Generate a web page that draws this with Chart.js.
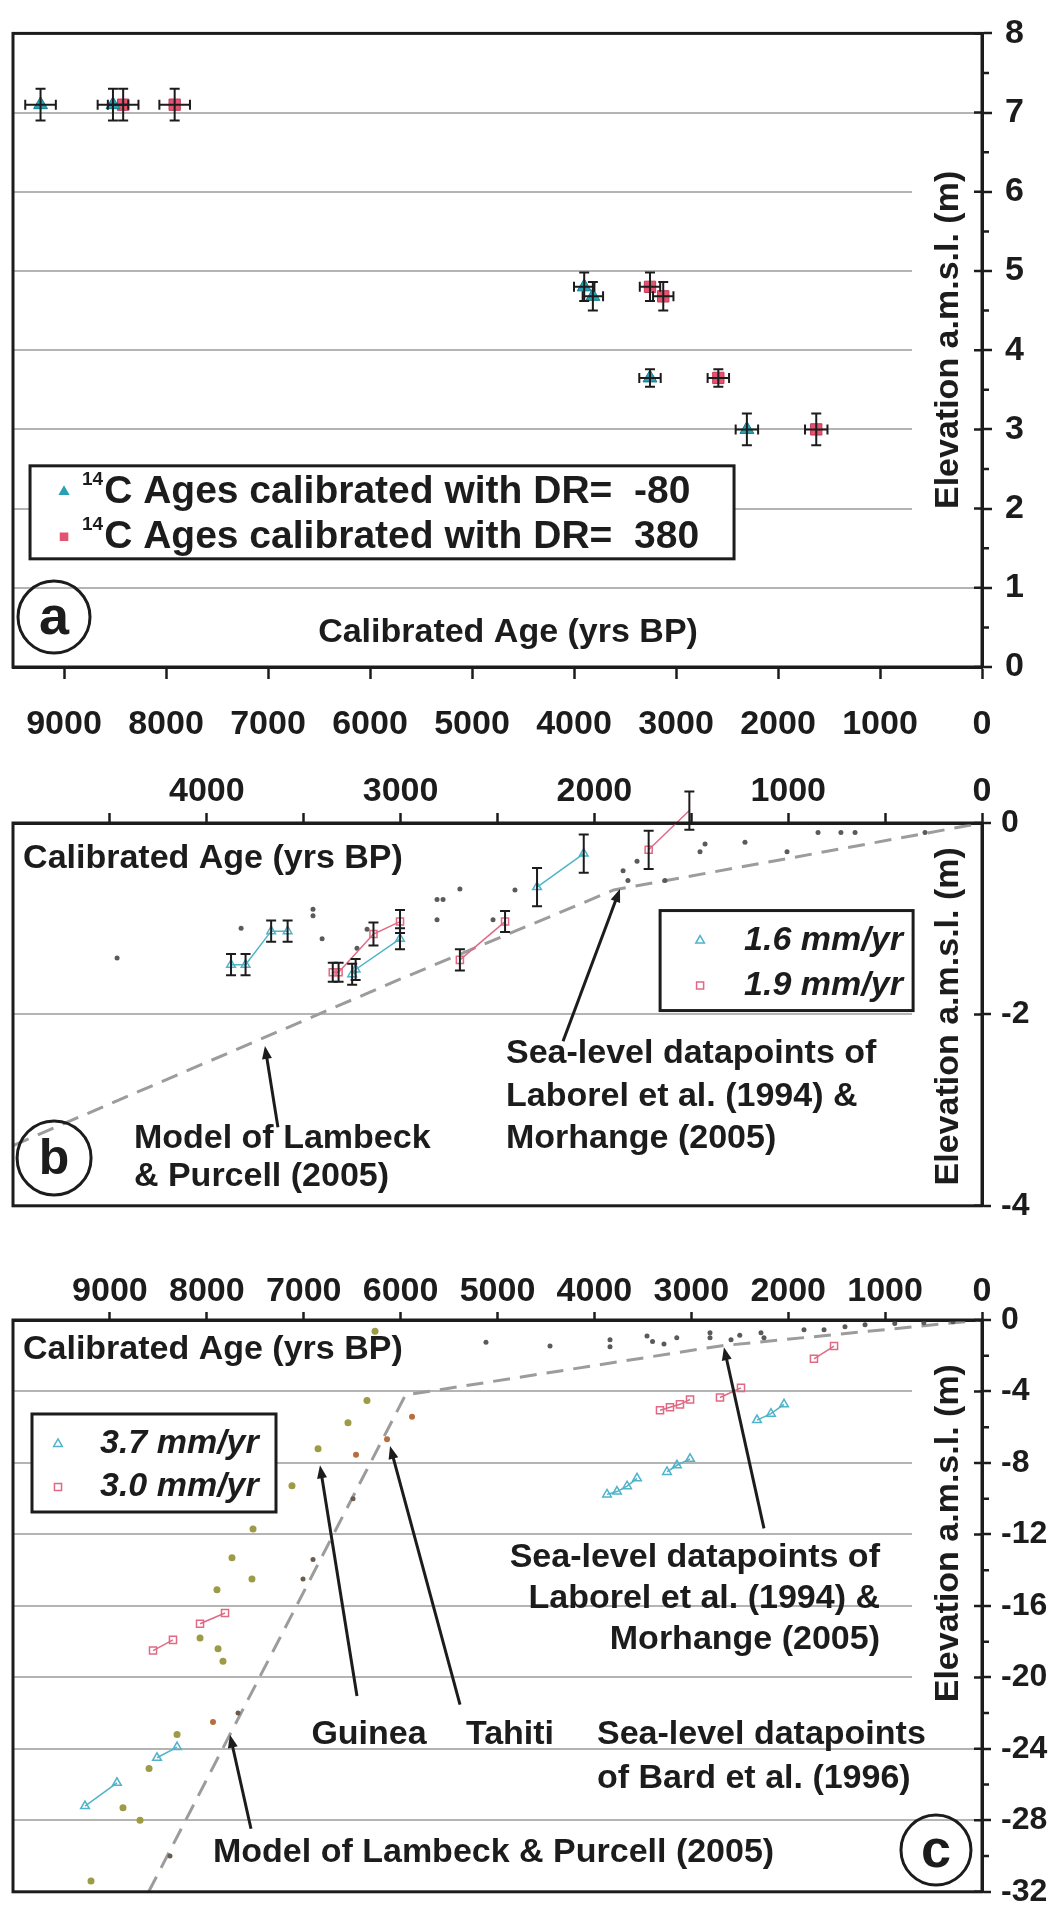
<!DOCTYPE html>
<html>
<head>
<meta charset="utf-8">
<script src="https://cdn.jsdelivr.net/npm/chart.js@4.4.1/dist/chart.umd.min.js"></script>
<style>
html, body { margin: 0; padding: 0; background: #fff; }
#wrap { position: relative; width: 1051px; height: 1921px; }
canvas { position: absolute; left: 0; }
</style>
</head>
<body>
<div id="wrap">
  <canvas id="ca" width="1051" height="745" style="top:0"></canvas>
  <canvas id="cb" width="1051" height="490" style="top:745px"></canvas>
  <canvas id="cc" width="1051" height="686" style="top:1235px"></canvas>
</div>
<script>
// ---- panel a : calibrated ages (yrs BP) and elevation (m) ----
const ageA_m80 = [9230, 8520, 3900, 3815, 3255, 2305];
const ageA_380 = [8420, 7915, 3255, 3125, 2585, 1625];
const elevA    = [7.1, 7.1, 4.8, 4.68, 3.65, 3.0];
const ageErrA  = [150, 150, 100, 100, 105, 110];
const elevErrA = [0.2, 0.2, 0.18, 0.18, 0.11, 0.2];

// ---- panel b ----
const cyanB = [
  [[3875, -1.48], [3800, -1.48], [3668, -1.13], [3583, -1.13]],
  [[3250, -1.58], [3232, -1.53], [3003, -1.21]],
  [[2296, -0.67], [2055, -0.32]]
];
const cyanBErr = [[0.11, 0.11, 0.11, 0.11], [0.11, 0.11, 0.11], [0.2, 0.2]];
const redB = [
  [[3350, -1.56], [3320, -1.56], [3140, -1.16], [3003, -1.03]],
  [[2694, -1.43], [2461, -1.03]],
  [[1720, -0.28], [1510, 0.13]]
];
const redBErr = [[0.1, 0.1, 0.12, 0.12], [0.11, 0.11], [0.2, 0.2]];
const laborelB = [[4463, -1.41], [3823, -1.10], [3452, -0.90], [3452, -0.97], [3405, -1.21], [3225, -1.31],
  [3173, -1.11], [2812, -0.80], [2781, -0.80], [2694, -0.69], [2812, -1.01], [2523, -1.01], [2410, -0.70],
  [1852, -0.50], [1827, -0.60], [1780, -0.40], [1636, -0.60], [1455, -0.30], [1429, -0.22], [1223, -0.20],
  [1006, -0.30], [846, -0.10], [728, -0.10], [655, -0.10], [294, -0.10]];
const modelB = [[5000, -3.37], [4000, -2.5], [3000, -1.63], [1900, -0.70], [1000, -0.37], [0, 0]];

// ---- panel c ----
const cyanC = [
  [[3870, -9.76], [3767, -9.6], [3663, -9.3], [3560, -8.86]],
  [[3251, -8.5], [3148, -8.13], [3013, -7.77]],
  [[2322, -5.6], [2178, -5.24], [2043, -4.72]],
  [[8514, -24.5], [8307, -23.9]],
  [[9257, -27.2], [8927, -25.9]]
];
const redC = [
  [[3323, -5.05], [3220, -4.88], [3117, -4.72], [3013, -4.45]],
  [[2704, -4.34], [2487, -3.8]],
  [[1734, -2.17], [1527, -1.46]],
  [[8555, -18.5], [8349, -17.9]],
  [[8070, -17.0], [7812, -16.4]]
];
const guineaC = [[6264, -0.63], [6347, -4.5], [6543, -5.75], [6852, -7.2], [7121, -9.27], [7523, -11.7],
  [7740, -13.3], [7534, -14.5], [7895, -15.1], [8070, -17.8], [7884, -18.4], [7833, -19.1], [8307, -23.2],
  [8596, -25.1], [8865, -27.3], [8689, -28.0], [9195, -31.4]];
const tahitiC = [[6460, -7.54], [6140, -6.67], [5882, -5.42], [7936, -22.5]];
const tahitiDarkC = [[6491, -10.0], [6904, -13.4], [7007, -14.5], [7678, -22.0], [8380, -30.0]];
const laborelC = [[5119, -1.25], [4458, -1.45], [3839, -1.1], [3839, -1.5], [3457, -0.9], [3400, -1.2],
  [3282, -1.35], [3150, -1.0], [2807, -0.72], [2807, -1.0], [2590, -1.1], [2500, -0.85], [2281, -0.72],
  [2250, -1.0], [1837, -0.54], [1630, -0.54], [1414, -0.38], [1207, -0.27], [900, -0.2], [600, -0.15], [300, -0.1]];
const modelC = [[8600, -32], [5950, -4.2], [2700, -1.45], [0, 0]];

// ---- ticks ----
const xTicksA = [9000, 8000, 7000, 6000, 5000, 4000, 3000, 2000, 1000, 0];
const xTicksB = [4500, 4000, 3500, 3000, 2500, 2000, 1500, 1000, 500, 0];
const xLabelsB = [4000, 3000, 2000, 1000, 0];
const xTicksC = [9000, 8000, 7000, 6000, 5000, 4000, 3000, 2000, 1000, 0];
const yTicksA = [0, 0.5, 1, 1.5, 2, 2.5, 3, 3.5, 4, 4.5, 5, 5.5, 6, 6.5, 7, 7.5, 8];
const yLabelsA = [0, 1, 2, 3, 4, 5, 6, 7, 8];
const yGridA = [1, 2, 3, 4, 5, 6, 7];
const yTicksB = [0, -2, -4];
const yGridB = [-2];
const yTicksC = [0, -2, -4, -6, -8, -10, -12, -14, -16, -18, -20, -22, -24, -26, -28, -30, -32];
const yLabelsC = [0, -4, -8, -12, -16, -20, -24, -28, -32];
const yGridC = [-4, -8, -12, -16, -20, -24, -28];

const yTitle = 'Elevation a.m.s.l. (m)';
const xTitle = 'Calibrated Age (yrs BP)';

const FONT = '"Liberation Sans", Arial, sans-serif';
const INK = '#1c1c1c';
const NONE = 'rgba(0,0,0,0)';
Chart.defaults.font.family = FONT;
Chart.defaults.color = INK;
Chart.defaults.animation = false;

const pts = arr => arr.map(p => ({ x: p[0], y: p[1] }));

function scales(o) {
  return {
    x: {
      type: 'linear', position: o.xPos, reverse: true, min: 0, max: o.xMax,
      afterBuildTicks: s => { s.ticks = o.xTicks.map(v => ({ value: v })); },
      afterFit: s => { s.height = o.xH; },
      ticks: {
        autoSkip: false, maxRotation: 0, padding: o.xPad, color: INK,
        font: { size: 34, weight: 'bold' },
        callback: v => o.xLabels.includes(v) ? String(v) : ''
      },
      grid: { drawOnChartArea: false, tickLength: o.xTL, tickWidth: 2.5, tickColor: INK },
      border: { color: INK, width: 3 }
    },
    y: {
      type: 'linear', position: 'right', min: o.yMin, max: o.yMax,
      afterBuildTicks: s => { s.ticks = o.yTicks.map(v => ({ value: v })); },
      afterFit: s => { s.width = 69; },
      ticks: {
        autoSkip: false, padding: o.yPad, color: INK,
        font: { size: o.yFont, weight: 'bold' },
        callback: v => o.yLabels.includes(v) ? String(v) : ''
      },
      grid: {
        color: c => (c.tick && o.yGrid.includes(c.tick.value)) ? '#b4b4b4' : NONE,
        lineWidth: 2, tickLength: o.yTL, tickWidth: 2.5,
        tickColor: c => (c.tick && o.yLabels.includes(c.tick.value)) ? INK : NONE
      },
      border: { color: INK, width: 3 }
    }
  };
}

// frame round the plot area, short minor ticks and the inner half of the major ticks
function frame(o) {
  return {
    id: 'frame',
    afterDraw(chart) {
      const { ctx, chartArea: a, scales: { y } } = chart;
      ctx.save();
      ctx.lineWidth = 3;
      ctx.strokeStyle = INK;
      ctx.strokeRect(a.left, a.top, a.right - a.left, a.bottom - a.top);
      ctx.lineWidth = 2.5;
      ctx.beginPath();
      o.yTicks.forEach(v => {
        const py = y.getPixelForValue(v);
        if (o.yLabels.includes(v)) { ctx.moveTo(a.right - 8, py); ctx.lineTo(a.right, py); }
        else { ctx.moveTo(a.right, py); ctx.lineTo(a.right + 7, py); }
      });
      ctx.stroke();
      ctx.restore();
    }
  };
}

const errBars = {
  id: 'errBars',
  afterDatasetsDraw(chart) {
    const { ctx, scales: { x, y } } = chart;
    ctx.save();
    ctx.strokeStyle = INK;
    ctx.lineWidth = 2;
    chart.data.datasets.forEach(ds => {
      if (!ds.errY) return;
      ds.data.forEach((p, i) => {
        const px = x.getPixelForValue(p.x), py = y.getPixelForValue(p.y);
        const y1 = y.getPixelForValue(p.y + ds.errY[i]), y2 = y.getPixelForValue(p.y - ds.errY[i]);
        ctx.beginPath();
        ctx.moveTo(px, y1); ctx.lineTo(px, y2);
        ctx.moveTo(px - 5, y1); ctx.lineTo(px + 5, y1);
        ctx.moveTo(px - 5, y2); ctx.lineTo(px + 5, y2);
        if (ds.errX) {
          const x1 = x.getPixelForValue(p.x + ds.errX[i]), x2 = x.getPixelForValue(p.x - ds.errX[i]);
          ctx.moveTo(x1, py); ctx.lineTo(x2, py);
          ctx.moveTo(x1, py - 5); ctx.lineTo(x1, py + 5);
          ctx.moveTo(x2, py - 5); ctx.lineTo(x2, py + 5);
        }
        ctx.stroke();
      });
    });
    ctx.restore();
  }
};

function marker(ctx, style, r, fill, stroke, x, y) {
  ctx.save();
  ctx.fillStyle = fill;
  ctx.strokeStyle = stroke;
  ctx.lineWidth = 1.5;
  Chart.helpers.drawPoint(ctx, { pointStyle: style, radius: r, rotation: 0, borderWidth: 1.5 }, x, y);
  ctx.restore();
}

function notes(n) {
  return {
    id: 'notes',
    beforeDatasetsDraw(chart) {
      const { ctx, chartArea: a, scales: { y } } = chart;
      const yc = y.getPixelForValue(n.titleAt);
      ctx.save();
      ctx.font = 'bold 34px ' + FONT;
      const w = ctx.measureText(yTitle).width;
      ctx.fillStyle = '#fff';
      ctx.fillRect(a.right - 70, yc - w / 2 - 12, 67, w + 24);
      ctx.translate(a.right - 33, yc);
      ctx.rotate(-Math.PI / 2);
      ctx.fillStyle = INK;
      ctx.textAlign = 'center';
      ctx.textBaseline = 'middle';
      ctx.fillText(yTitle, 0, 0);
      ctx.restore();
    },
    afterDatasetsDraw(chart) {
      const { ctx, scales: { x, y } } = chart;
      const P = (a, b) => [x.getPixelForValue(a), y.getPixelForValue(b)];
      ctx.save();
      ctx.fillStyle = INK;
      ctx.strokeStyle = INK;
      ctx.textBaseline = 'middle';
      ctx.font = 'bold 34px ' + FONT;
      (n.texts || []).forEach(t => {
        const [px, py] = P(t.x, t.y);
        ctx.textAlign = t.align || 'left';
        ctx.fillText(t.t, px, py);
      });
      (n.arrows || []).forEach(ar => {
        const [x0, y0] = P(ar.from[0], ar.from[1]);
        const [x1, y1] = P(ar.to[0], ar.to[1]);
        const ang = Math.atan2(y1 - y0, x1 - x0);
        ctx.lineWidth = 3;
        ctx.beginPath();
        ctx.moveTo(x0, y0);
        ctx.lineTo(x1 - 8 * Math.cos(ang), y1 - 8 * Math.sin(ang));
        ctx.stroke();
        ctx.beginPath();
        ctx.moveTo(x1, y1);
        ctx.lineTo(x1 - 13 * Math.cos(ang) + 5 * Math.sin(ang), y1 - 13 * Math.sin(ang) - 5 * Math.cos(ang));
        ctx.lineTo(x1 - 13 * Math.cos(ang) - 5 * Math.sin(ang), y1 - 13 * Math.sin(ang) + 5 * Math.cos(ang));
        ctx.closePath();
        ctx.fill();
      });
      (n.circles || []).forEach(c => {
        const [px, py] = P(c.x, c.y);
        ctx.lineWidth = 3;
        ctx.beginPath();
        ctx.arc(px, py, c.r, 0, Math.PI * 2);
        ctx.stroke();
        ctx.font = 'bold ' + c.size + 'px ' + FONT;
        ctx.textAlign = 'center';
        ctx.fillText(c.t, px, py + 2);
      });
      const L = n.legend;
      if (L) {
        const [lx, ly] = P(L.x, L.y);
        ctx.fillStyle = '#fff';
        ctx.fillRect(lx, ly, L.w, L.h);
        ctx.lineWidth = 3;
        ctx.strokeRect(lx, ly, L.w, L.h);
        L.items.forEach(it => {
          const my = ly + it.dy;
          marker(ctx, it.style, it.r, it.fill, it.stroke, lx + L.mx, my);
          ctx.fillStyle = INK;
          ctx.textAlign = 'left';
          let tx = lx + L.tx;
          if (it.sup) {
            ctx.font = 'bold 19px ' + FONT;
            ctx.fillText(it.sup, tx, my - 12);
            tx += ctx.measureText(it.sup).width + 1;
          }
          ctx.font = L.font;
          ctx.fillText(it.label, tx, my);
        });
      }
      ctx.restore();
    }
  };
}

function segSets(segs, errs, color, style) {
  return segs.map((s, i) => ({
    data: pts(s), showLine: true, borderColor: color, borderWidth: 1.5, clip: false,
    pointStyle: style, pointRadius: 5, pointBorderWidth: 1.5,
    pointBackgroundColor: 'rgba(255,255,255,0)', pointBorderColor: color,
    errY: errs ? errs[i] : null
  }));
}
function dots(arr, color, r) {
  return { data: pts(arr), showLine: false, pointRadius: r, pointBorderWidth: 0, pointBackgroundColor: color, pointBorderColor: color };
}
function model(arr) {
  return { data: pts(arr), showLine: true, pointRadius: 0, borderColor: '#9c9c9c', borderWidth: 3, borderDash: [17, 10] };
}
const common = (pad, sc) => ({
  responsive: false, layout: { padding: pad }, scales: sc,
  plugins: { legend: { display: false }, tooltip: { enabled: false } }
});

// ---- panel a ----
const axA = {
  xPos: 'bottom', xMax: 9500, xTicks: xTicksA, xLabels: xTicksA, xH: 78, xPad: 25, xTL: 12,
  yMin: 0, yMax: 8, yTicks: yTicksA, yLabels: yLabelsA, yGrid: yGridA, yPad: 13, yTL: 10, yFont: 34
};
new Chart(document.getElementById('ca'), {
  type: 'scatter',
  data: {
    datasets: [
      { data: ageA_m80.map((a, i) => ({ x: a, y: elevA[i] })), pointStyle: 'triangle', pointRadius: 8,
        pointBackgroundColor: '#2aa0b4', pointBorderColor: '#167a8c', pointBorderWidth: 1, errX: ageErrA, errY: elevErrA },
      { data: ageA_380.map((a, i) => ({ x: a, y: elevA[i] })), pointStyle: 'rect', pointRadius: 8,
        pointBackgroundColor: '#e4536f', pointBorderColor: '#c63a57', pointBorderWidth: 1, errX: ageErrA, errY: elevErrA }
    ]
  },
  options: common({ left: 13, top: 30, right: 0, bottom: 0 }, scales(axA)),
  plugins: [errBars, notes({
    titleAt: 4.13,
    texts: [{ t: xTitle, x: 4647, y: 0.44, align: 'center' }],
    circles: [{ t: 'a', x: 9098, y: 0.63, r: 36, size: 54 }],
    legend: {
      x: 9333, y: 2.54, w: 704, h: 93, mx: 34, tx: 52, font: 'bold 39px ' + FONT,
      items: [
        { style: 'triangle', r: 5, fill: '#2aa0b4', stroke: '#2aa0b4', dy: 26, sup: '14', label: 'C Ages calibrated with DR=  -80' },
        { style: 'rect', r: 5, fill: '#e4536f', stroke: '#e4536f', dy: 71, sup: '14', label: 'C Ages calibrated with DR=  380' }
      ]
    }
  }), frame(axA)]
});

// ---- panel b ----
const axB = {
  xPos: 'top', xMax: 5000, xTicks: xTicksB, xLabels: xLabelsB, xH: 78, xPad: 1, xTL: 10,
  yMin: -4, yMax: 0, yTicks: yTicksB, yLabels: yTicksB, yGrid: yGridB, yPad: 10, yTL: 9, yFont: 32
};
new Chart(document.getElementById('cb'), {
  type: 'scatter',
  data: {
    datasets: [
      ...segSets(cyanB, cyanBErr, '#4fb3c9', 'triangle'),
      ...segSets(redB, redBErr, '#e06a85', 'rect'),
      dots(laborelB, '#5a5a5a', 2.5),
      model(modelB)
    ]
  },
  options: common({ left: 13, top: 0, right: 0, bottom: 10 }, scales(axB)),
  plugins: [errBars, notes({
    titleAt: -2.02,
    texts: [
      { t: xTitle, x: 4948, y: -0.37 },
      { t: 'Sea-level datapoints of', x: 2456, y: -2.41 },
      { t: 'Laborel et al. (1994) &', x: 2456, y: -2.86 },
      { t: 'Morhange (2005)', x: 2456, y: -3.30 },
      { t: 'Model of Lambeck', x: 4376, y: -3.30 },
      { t: '& Purcell (2005)', x: 4376, y: -3.70 }
    ],
    arrows: [
      { from: [3633, -3.18], to: [3700, -2.33] },
      { from: [2162, -2.28], to: [1868, -0.69] }
    ],
    circles: [{ t: 'b', x: 4788, y: -3.50, r: 37, size: 50 }],
    legend: {
      x: 1661, y: -0.915, w: 253, h: 100, mx: 40, tx: 84, font: 'italic bold 34px ' + FONT,
      items: [
        { style: 'triangle', r: 5, fill: 'rgba(255,255,255,0)', stroke: '#4fb3c9', dy: 30, label: '1.6 mm/yr' },
        { style: 'rect', r: 5, fill: 'rgba(255,255,255,0)', stroke: '#e06a85', dy: 75, label: '1.9 mm/yr' }
      ]
    }
  }), frame(axB)]
});

// ---- panel c ----
const axC = {
  xPos: 'top', xMax: 10000, xTicks: xTicksC, xLabels: xTicksC, xH: 85, xPad: 0, xTL: 8,
  yMin: -32, yMax: 0, yTicks: yTicksC, yLabels: yLabelsC, yGrid: yGridC, yPad: 10, yTL: 9, yFont: 32
};
new Chart(document.getElementById('cc'), {
  type: 'scatter',
  data: {
    datasets: [
      ...segSets(cyanC, null, '#4fb3c9', 'triangle'),
      ...segSets(redC, null, '#e06a85', 'rect'),
      dots(guineaC, '#9d9b45', 3.5),
      dots(tahitiC, '#b86e3e', 3),
      dots(tahitiDarkC, '#6b5b4b', 2.5),
      dots(laborelC, '#5a5a5a', 2.5),
      model(modelC)
    ]
  },
  options: common({ left: 13, top: 0, right: 0, bottom: 11 }, scales(axC)),
  plugins: [notes({
    titleAt: -11.93,
    texts: [
      { t: xTitle, x: 9897, y: -1.63 },
      { t: 'Sea-level datapoints of', x: 1053, y: -13.29, align: 'right' },
      { t: 'Laborel et al. (1994) &', x: 1053, y: -15.62, align: 'right' },
      { t: 'Morhange (2005)', x: 1053, y: -17.9, align: 'right' },
      { t: 'Guinea', x: 6326, y: -23.2, align: 'center' },
      { t: 'Tahiti', x: 4871, y: -23.2, align: 'center' },
      { t: 'Sea-level datapoints', x: 3973, y: -23.2 },
      { t: 'of Bard et al. (1996)', x: 3973, y: -25.65 },
      { t: 'Model of Lambeck & Purcell (2005)', x: 7936, y: -29.83 }
    ],
    arrows: [
      { from: [2250, -11.66], to: [2663, -1.52] },
      { from: [6450, -21.04], to: [6832, -8.13] },
      { from: [5387, -21.53], to: [6109, -7.05] },
      { from: [7544, -28.47], to: [7761, -23.21] }
    ],
    circles: [{ t: 'c', x: 475, y: -29.66, r: 35, size: 54 }],
    legend: {
      x: 9804, y: -5.26, w: 244, h: 98, mx: 26, tx: 68, font: 'italic bold 34px ' + FONT,
      items: [
        { style: 'triangle', r: 5, fill: 'rgba(255,255,255,0)', stroke: '#4fb3c9', dy: 30, label: '3.7 mm/yr' },
        { style: 'rect', r: 5, fill: 'rgba(255,255,255,0)', stroke: '#e06a85', dy: 73, label: '3.0 mm/yr' }
      ]
    }
  }), frame(axC)]
});
</script>
</body>
</html>
